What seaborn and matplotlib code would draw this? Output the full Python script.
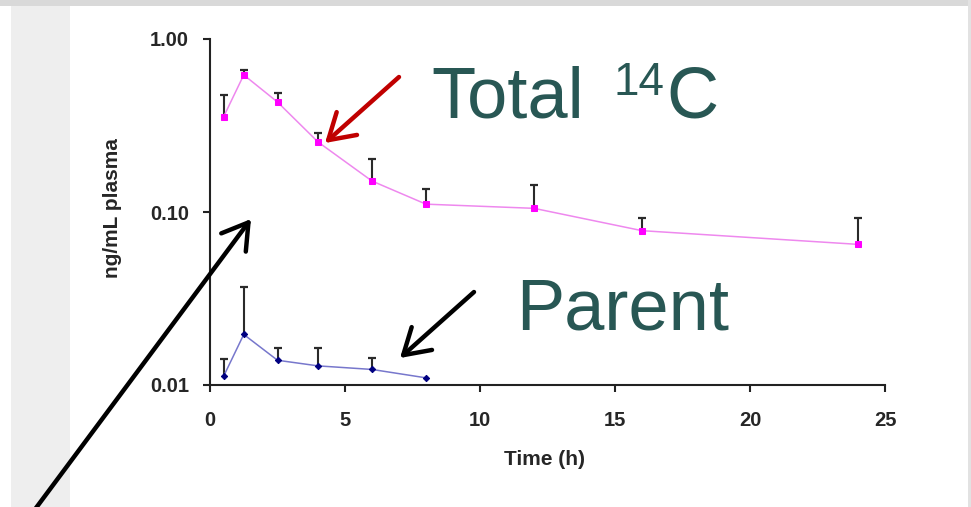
import matplotlib
matplotlib.use('Agg')
import matplotlib.pyplot as plt
from matplotlib.patches import Rectangle
from matplotlib.ticker import NullLocator, FixedLocator, FixedFormatter
import seaborn as sns
import numpy as np
import pandas as pd

# --- data ---
time_total = [0.5, 1.25, 2.5, 4, 6, 8, 12, 16, 24]
total_mean = [0.354, 0.62, 0.432, 0.254, 0.151, 0.111, 0.105, 0.078, 0.065]
total_upper = [0.474, 0.66, 0.49, 0.286, 0.202, 0.136, 0.143, 0.092, 0.092]

time_parent = [0.5, 1.25, 2.5, 4, 6, 8]
parent_mean = [0.0112, 0.0196, 0.0139, 0.0129, 0.0123, 0.0110]
parent_upper = [0.0142, 0.037, 0.0164, 0.0164, 0.0144, 0.0110]

x_ticks = [0, 5, 10, 15, 20, 25]
y_ticks = [0.01, 0.1, 1.0]
y_ticklabels = ['0.01', '0.10', '1.00']

W, H = 971, 507

sns.set_style('white')
plt.rcParams['font.family'] = ['Liberation Sans', 'DejaVu Sans']

fig = plt.figure(figsize=(W / 100, H / 100), dpi=100)
fig.patch.set_facecolor('white')


def px(x, y):
    # image pixel (top-left origin) -> figure fraction
    return x / W, 1 - y / H


# slide-style background strips
fig.add_artist(Rectangle((0, 1 - 6 / H), 1, 6 / H, transform=fig.transFigure,
                         facecolor='#d9d9d9', edgecolor='none', zorder=0))
fig.add_artist(Rectangle((11 / W, 0), 59 / W, 1 - 6 / H, transform=fig.transFigure,
                         facecolor='#eeeeee', edgecolor='none', zorder=0))
fig.add_artist(Rectangle((968 / W, 0), 3 / W, 1, transform=fig.transFigure,
                         facecolor='#e2e2e2', edgecolor='none', zorder=0))

ax = fig.add_axes([210 / W, 122 / H, 675 / W, 346 / H])
ax.set_facecolor('none')

df_total = pd.DataFrame({'time': time_total, 'conc': total_mean})
df_parent = pd.DataFrame({'time': time_parent, 'conc': parent_mean})

# error bars (upper only)
err = '#2a2a2a'
ax.vlines(time_total, total_mean, total_upper, color=err, lw=1.5, zorder=2)
ax.plot(time_total, total_upper, ls='none', marker='_', ms=6, mew=1.6,
        color=err, zorder=2)
ax.vlines(time_parent, parent_mean, parent_upper, color=err, lw=1.5, zorder=2)
ax.plot(time_parent[:-1], parent_upper[:-1], ls='none', marker='_', ms=6, mew=1.6,
        color=err, zorder=2)

sns.lineplot(data=df_total, x='time', y='conc', ax=ax, color='#ee88ee', lw=1.1,
             marker='s', markersize=5, markerfacecolor='#ff00ff',
             markeredgecolor='#ff00ff', zorder=3)
sns.lineplot(data=df_parent, x='time', y='conc', ax=ax, color='#7777cc', lw=1.1,
             marker='D', markersize=3.2, markerfacecolor='#000080',
             markeredgecolor='#000080', zorder=3)

ax.set_yscale('log')
ax.set_xlim(0, 25)
ax.set_ylim(0.01, 1.0)
ax.xaxis.set_major_locator(FixedLocator(x_ticks))
ax.yaxis.set_major_locator(FixedLocator(y_ticks))
ax.yaxis.set_major_formatter(FixedFormatter(y_ticklabels))
ax.yaxis.set_minor_locator(NullLocator())
ax.set_xticklabels([str(t) for t in x_ticks])

for side in ['top', 'right']:
    ax.spines[side].set_visible(False)
for side in ['left', 'bottom']:
    ax.spines[side].set_color('#222222')
    ax.spines[side].set_linewidth(1.5)

ax.tick_params(axis='both', which='major', direction='out', length=5, width=1.5,
               color='#222222', labelsize=14.5, bottom=True, left=True)
ax.tick_params(axis='x', pad=14)
ax.tick_params(axis='y', pad=10)
for lab in ax.get_xticklabels() + ax.get_yticklabels():
    lab.set_fontweight('bold')

ax.set_xlabel('Time (h)', fontsize=15, fontweight='bold')
ax.set_ylabel('ng/mL plasma', fontsize=15, fontweight='bold')
ax.grid(False)
ax.xaxis.set_label_coords(0.496, -0.188)
ax.yaxis.set_label_coords(-0.131, 0.51)

# big slide annotations
teal = '#285754'
fig.text(*px(431, 118), 'Total', fontsize=52, color=teal, ha='left', va='baseline')
fig.text(*px(613, 95), '14', fontsize=33, color=teal, ha='left', va='baseline')
fig.text(*px(666, 118), 'C', fontsize=52, color=teal, ha='left', va='baseline')
fig.text(*px(516, 330), 'Parent', fontsize=52, color=teal, ha='left', va='baseline')

arrow_kw = dict(arrowstyle='->,head_length=0.9,head_width=0.55', lw=3.2,
                shrinkA=0, shrinkB=0)
ax.annotate('', xy=px(325, 143), xytext=px(399, 77), xycoords='figure fraction',
            textcoords='figure fraction', annotation_clip=False,
            arrowprops=dict(color='#c00000', mutation_scale=20, **arrow_kw))
ax.annotate('', xy=px(400, 358), xytext=px(474, 292), xycoords='figure fraction',
            textcoords='figure fraction', annotation_clip=False,
            arrowprops=dict(color='black', mutation_scale=20, **arrow_kw))
ax.annotate('', xy=px(251, 219), xytext=px(33, 512), xycoords='figure fraction',
            textcoords='figure fraction', annotation_clip=False,
            arrowprops=dict(color='black', mutation_scale=20, **arrow_kw))

fig.savefig('out.png', dpi=100)
